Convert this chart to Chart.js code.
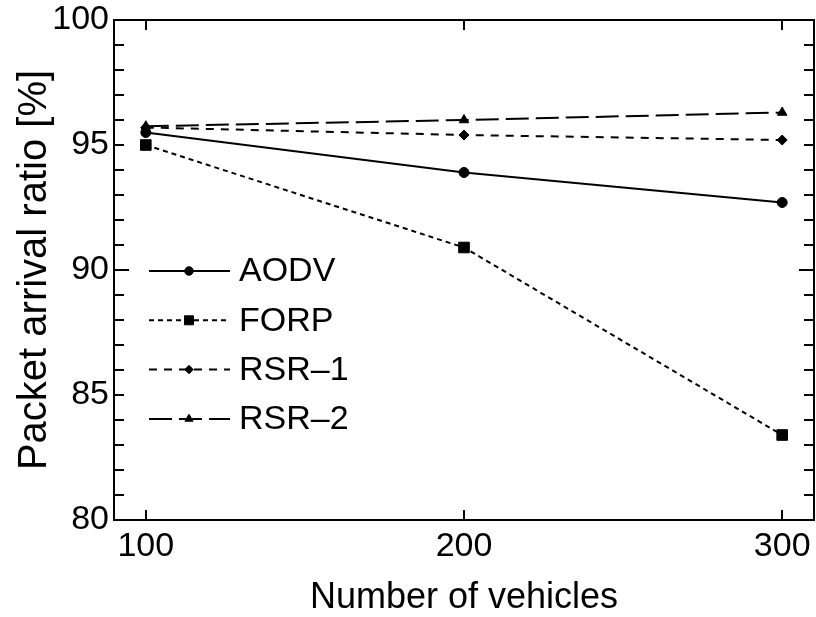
<!DOCTYPE html>
<html>
<head>
<meta charset="utf-8">
<title>Packet arrival ratio</title>
<script src="https://cdn.jsdelivr.net/npm/chart.js@4.4.1/dist/chart.umd.min.js"></script>
<style>
    html, body { margin: 0; padding: 0; background: #fff; }
    #wrap { width: 816px; height: 617px; }
</style>
</head>
<body>
<div id="wrap"><canvas id="arrivalChart" width="816" height="617"></canvas></div>
<script>
// Number of vehicles on the x axis
const vehicleCounts = [100, 200, 300];

// Packet arrival ratio [%] per protocol
const aodvRatio = [95.5, 93.9, 92.7];
const forpRatio = [95.0, 90.9, 83.4];
const rsr1Ratio = [95.7, 95.4, 95.2];
const rsr2Ratio = [95.75, 96.0, 96.3];

// Labelled ticks
const xTickValues = [100, 200, 300];
const yTickValues = [80, 85, 90, 95, 100];

const FONT = '"Liberation Sans", Arial, Helvetica, sans-serif';

function toPoints(values) {
    return vehicleCounts.map((v, i) => ({ x: v, y: values[i] }));
}

function series(label, values, style) {
    return Object.assign({
        label: label,
        data: toPoints(values),
        borderColor: '#000',
        backgroundColor: '#000',
        pointBackgroundColor: '#000',
        pointBorderColor: '#000',
        pointBorderWidth: 1,
        borderWidth: 2,
        fill: false,
        tension: 0
    }, style);
}

// Box frame with inward ticks on all four sides, plus an in-plot legend
const frameTicks = {
    id: 'frameTicks',
    afterDraw(chart) {
        const ctx = chart.ctx;
        const area = chart.chartArea;
        const xs = chart.scales.x;
        const ys = chart.scales.y;

        ctx.save();
        ctx.strokeStyle = '#000';
        ctx.lineWidth = 2;
        ctx.strokeRect(area.left, area.top, area.right - area.left, area.bottom - area.top);

        ctx.beginPath();
        for (let v = ys.min; v <= ys.max; v++) {
            const y = Math.round(ys.getPixelForValue(v));
            const len = v % 10 === 0 ? 15 : 10;
            ctx.moveTo(area.left, y);
            ctx.lineTo(area.left + len, y);
            ctx.moveTo(area.right, y);
            ctx.lineTo(area.right - len, y);
        }
        xTickValues.forEach(v => {
            const x = Math.round(xs.getPixelForValue(v));
            ctx.moveTo(x, area.bottom);
            ctx.lineTo(x, area.bottom - 10);
            ctx.moveTo(x, area.top);
            ctx.lineTo(x, area.top + 10);
        });
        ctx.stroke();

        // legend rows
        const rowTop = 271;
        const rowGap = 49.3;
        ctx.font = '34px ' + FONT;
        ctx.textBaseline = 'middle';
        ctx.textAlign = 'left';
        chart.data.datasets.forEach((ds, i) => {
            const y = rowTop + i * rowGap;
            ctx.lineWidth = ds.borderWidth;
            ctx.setLineDash(ds.borderDash || []);
            ctx.beginPath();
            ctx.moveTo(149, y);
            ctx.lineTo(230, y);
            ctx.stroke();
            ctx.setLineDash([]);
            ctx.fillStyle = '#000';
            ctx.lineWidth = 1;
            Chart.helpers.drawPoint(ctx, {
                pointStyle: ds.pointStyle,
                radius: ds.pointRadius * 0.85,
                rotation: 0,
                borderWidth: 1
            }, 189, y);
            ctx.fillStyle = '#000';
            ctx.fillText(ds.label, 239, y + 1);
        });
        ctx.restore();
    }
};

const ctx = document.getElementById('arrivalChart');

new Chart(ctx, {
    type: 'line',
    data: {
        datasets: [
            series('AODV', aodvRatio, { pointStyle: 'circle', pointRadius: 5 }),
            series('FORP', forpRatio, { pointStyle: 'rect', pointRadius: 7.5, borderDash: [5, 4] }),
            series('RSR\u20131', rsr1Ratio, { pointStyle: 'rectRot', pointRadius: 5, borderDash: [8, 7] }),
            series('RSR\u20132', rsr2Ratio, { pointStyle: 'triangle', pointRadius: 5.5, borderDash: [23, 7] })
        ]
    },
    options: {
        responsive: false,
        animation: false,
        layout: {
            autoPadding: false,
            padding: { top: 20, right: 2, left: 0, bottom: 0 }
        },
        plugins: {
            legend: { display: false },
            tooltip: { enabled: false }
        },
        scales: {
            x: {
                type: 'linear',
                min: 90,
                max: 310,
                grid: { display: false, drawTicks: false },
                border: { display: false },
                afterBuildTicks: scale => {
                    scale.ticks = xTickValues.map(v => ({ value: v }));
                },
                afterFit: scale => {
                    scale.height = 97;
                    scale.paddingLeft = 0;
                    scale.paddingRight = 0;
                },
                ticks: {
                    padding: 6,
                    color: '#000',
                    font: { family: FONT, size: 34 },
                    maxRotation: 0,
                    autoSkip: false
                },
                title: {
                    display: true,
                    text: 'Number of vehicles',
                    color: '#000',
                    font: { family: FONT, size: 36, lineHeight: 1 },
                    padding: { top: 0, bottom: 1 }
                }
            },
            y: {
                min: 80,
                max: 100,
                grid: { display: false, drawTicks: false },
                border: { display: false },
                afterBuildTicks: scale => {
                    scale.ticks = yTickValues.map(v => ({ value: v }));
                },
                afterFit: scale => {
                    scale.width = 114;
                    scale.paddingTop = 0;
                    scale.paddingBottom = 0;
                },
                ticks: {
                    padding: 5,
                    color: '#000',
                    font: { family: FONT, size: 34 },
                    autoSkip: false
                },
                title: {
                    display: true,
                    text: 'Packet arrival ratio [%]',
                    color: '#000',
                    font: { family: FONT, size: 40, lineHeight: 1 },
                    padding: { top: 15, bottom: 0 }
                }
            }
        }
    },
    plugins: [frameTicks]
});
</script>
</body>
</html>
